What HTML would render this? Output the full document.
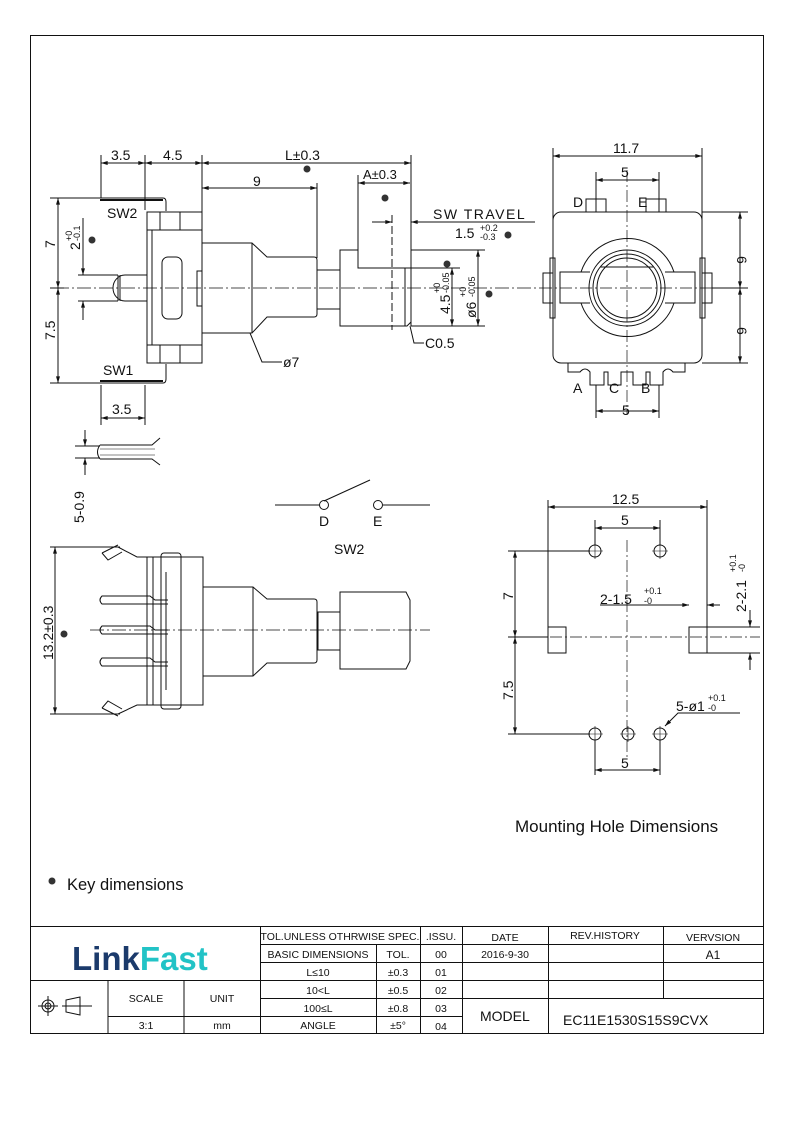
<!DOCTYPE html>
<html><head><meta charset="utf-8"><style>
html,body{margin:0;padding:0;background:#fff}
svg{display:block}
text{font-family:"Liberation Sans",sans-serif;fill:#111}
</style></head><body>
<svg width="794" height="1123" viewBox="0 0 794 1123" xmlns="http://www.w3.org/2000/svg">
<defs>
<marker id="a" viewBox="0 0 10 6" refX="10" refY="3" markerWidth="8" markerHeight="4" orient="auto-start-reverse"><path d="M0,0L10,3L0,6z" fill="#111"/></marker>
</defs>
<rect x="30.5" y="35.5" width="733" height="998" fill="none" stroke="#111" stroke-width="1"/>
<g stroke="#111" stroke-width="1" fill="none">
<line x1="55" y1="288" x2="540" y2="288" stroke-dasharray="14,3,2,3" stroke-width="0.7"/>
<line x1="101" y1="155" x2="101" y2="198"/><line x1="145" y1="155" x2="145" y2="210"/>
<line x1="202" y1="155" x2="202" y2="244"/><line x1="411" y1="155" x2="411" y2="326"/>
<line x1="101" y1="163" x2="145" y2="163" marker-start="url(#a)" marker-end="url(#a)"/>
<line x1="145" y1="163" x2="202" y2="163" marker-start="url(#a)" marker-end="url(#a)"/>
<line x1="202" y1="163" x2="411" y2="163" marker-start="url(#a)" marker-end="url(#a)"/>
<line x1="317" y1="183" x2="317" y2="258"/>
<line x1="202" y1="188" x2="317" y2="188" marker-start="url(#a)" marker-end="url(#a)"/>
<line x1="358" y1="175" x2="358" y2="268"/>
<line x1="358" y1="183" x2="410" y2="183" marker-start="url(#a)" marker-end="url(#a)"/>
<line x1="372" y1="222" x2="392" y2="222" marker-end="url(#a)"/>
<line x1="430" y1="222" x2="411" y2="222" marker-end="url(#a)"/>
<line x1="430" y1="222" x2="535" y2="222"/>
<line x1="392" y1="215" x2="392" y2="330" stroke-dasharray="8,3"/>
<path d="M100,198 H163 Q166,198 166,202 V211"/><path d="M100,200 H163" stroke-width="2"/>
<path d="M100,383 H163 Q166,383 166,379 V364"/><path d="M100,381 H163" stroke-width="2"/>
<rect x="147" y="212" width="55" height="151"/>
<line x1="147" y1="230" x2="202" y2="230"/><line x1="147" y1="345" x2="202" y2="345"/>
<line x1="160" y1="212" x2="160" y2="230"/><line x1="180" y1="212" x2="180" y2="230"/>
<line x1="160" y1="345" x2="160" y2="363"/><line x1="180" y1="345" x2="180" y2="363"/>
<line x1="152" y1="230" x2="152" y2="345"/>
<rect x="162" y="257" width="20" height="62" rx="6"/>
<rect x="197" y="271" width="5" height="35"/>
<path d="M147,275 H125 A12,13 0 0 0 125,301 H147"/><line x1="118" y1="275" x2="118" y2="301"/><line x1="120" y1="275" x2="120" y2="301"/>
<path d="M202,243 H252 L267,257 H314 Q317,257 317,260 V314 Q317,317 314,317 H267 L252,333 H202"/>
<line x1="252" y1="243" x2="252" y2="333"/>
<rect x="317" y="270" width="23" height="39"/>
<path d="M340,250 H358 V268 H411 V322 L407,326 H340 Z"/><line x1="405" y1="268" x2="405" y2="326"/>
<path d="M250,333 L262,362 H282"/>
<path d="M410,326 L414,343 H424"/>
<line x1="58" y1="198" x2="58" y2="383"/>
<line x1="50" y1="198" x2="100" y2="198"/><line x1="50" y1="383" x2="100" y2="383"/><line x1="50" y1="288" x2="64" y2="288"/>
<line x1="58" y1="205" x2="58" y2="198" marker-end="url(#a)"/><line x1="58" y1="280" x2="58" y2="288" marker-end="url(#a)"/>
<line x1="58" y1="296" x2="58" y2="288" marker-end="url(#a)"/><line x1="58" y1="376" x2="58" y2="383" marker-end="url(#a)"/>
<line x1="83" y1="218" x2="83" y2="275" marker-end="url(#a)"/><line x1="83" y1="320" x2="83" y2="301" marker-end="url(#a)"/>
<line x1="78" y1="275" x2="118" y2="275"/><line x1="78" y1="301" x2="118" y2="301"/>
<line x1="452" y1="268" x2="452" y2="326" marker-start="url(#a)" marker-end="url(#a)"/>
<line x1="478" y1="250" x2="478" y2="326" marker-start="url(#a)" marker-end="url(#a)"/>
<line x1="411" y1="326" x2="485" y2="326"/><line x1="411" y1="268" x2="460" y2="268"/><line x1="411" y1="250" x2="485" y2="250"/>
<line x1="101" y1="385" x2="101" y2="425"/><line x1="145" y1="385" x2="145" y2="425"/>
<line x1="101" y1="418" x2="145" y2="418" marker-start="url(#a)" marker-end="url(#a)"/>
<path d="M75,446 H100 M75,458 H100"/>
<path d="M100,445 H152 L160,438 M100,459 H152 L160,465"/>
<path d="M100,449 H155 M100,455 H155" stroke-width="0.6"/>
<path d="M100,445 Q95,452 100,459"/>
<line x1="85" y1="430" x2="85" y2="446" marker-end="url(#a)"/><line x1="85" y1="475" x2="85" y2="458" marker-end="url(#a)"/>
<line x1="627" y1="170" x2="627" y2="415" stroke-dasharray="12,3,2,3" stroke-width="0.7"/>
<line x1="540" y1="288" x2="725" y2="288" stroke-dasharray="12,3,2,3" stroke-width="0.7"/>
<line x1="553" y1="148" x2="553" y2="225"/><line x1="702" y1="148" x2="702" y2="225"/>
<line x1="553" y1="156" x2="702" y2="156" marker-start="url(#a)" marker-end="url(#a)"/>
<line x1="596" y1="172" x2="596" y2="212"/><line x1="659" y1="172" x2="659" y2="212"/>
<line x1="596" y1="180" x2="659" y2="180" marker-start="url(#a)" marker-end="url(#a)"/>
<rect x="553" y="212" width="149" height="151" rx="8"/>
<path d="M590,303 H560 V272 H590 M665,272 H695 V303 H665"/>
<path d="M581,272 A49,49 0 0 1 674,272 M581,303 A49,49 0 0 0 674,303"/>
<circle cx="627" cy="288" r="38"/><circle cx="627" cy="288" r="34"/><circle cx="627" cy="288" r="30"/>
<line x1="600" y1="267" x2="654" y2="267"/>
<rect x="543" y="273" width="10" height="30"/><rect x="702" y="273" width="10" height="30"/>
<rect x="550" y="258" width="5" height="60"/><rect x="700" y="258" width="5" height="60"/>
<rect x="586" y="199" width="20" height="13"/><rect x="646" y="199" width="20" height="13"/>
<path d="M568,363 V372 H580 Q585,366 590,372 V385 H604 V372 H608 V385 H621 V372 H633 V385 H646 V372 H650 V385 H663 V372 Q668,366 673,372 H685 V363"/>
<line x1="596" y1="385" x2="596" y2="418"/><line x1="659" y1="385" x2="659" y2="418"/>
<line x1="596" y1="411" x2="659" y2="411" marker-start="url(#a)" marker-end="url(#a)"/>
<line x1="702" y1="212" x2="748" y2="212"/><line x1="702" y1="363" x2="748" y2="363"/><line x1="712" y1="288" x2="748" y2="288"/>
<line x1="740" y1="212" x2="740" y2="288" marker-start="url(#a)" marker-end="url(#a)"/>
<line x1="740" y1="288" x2="740" y2="363" marker-start="url(#a)" marker-end="url(#a)"/>
<circle cx="324" cy="505" r="4.5"/><circle cx="378" cy="505" r="4.5"/>
<line x1="324" y1="501" x2="370" y2="480"/>
<line x1="275" y1="505" x2="320" y2="505"/><line x1="383" y1="505" x2="430" y2="505"/>
<line x1="90" y1="630" x2="430" y2="630" stroke-dasharray="14,3,2,3" stroke-width="0.7"/>
<line x1="50" y1="547" x2="120" y2="547"/><line x1="50" y1="714" x2="120" y2="714"/>
<line x1="55" y1="547" x2="55" y2="714" marker-start="url(#a)" marker-end="url(#a)"/>
<path d="M118,547 L137,557 H147 M118,714 L137,705 H147"/>
<path d="M102,553 L118,545 M102,553 L108,560 L122,552"/>
<path d="M102,708 L118,716 M102,708 L108,701 L122,709"/>
<rect x="147" y="557" width="56" height="148"/>
<rect x="161" y="553" width="20" height="156" rx="3"/>
<line x1="153" y1="557" x2="153" y2="705"/>
<path d="M168,600 H155 L150,596 H102 Q98,600 102,604 H150 L155,604 H168"/>
<path d="M168,630 H155 L150,626 H102 Q98,630 102,634 H150 L155,634 H168"/>
<path d="M168,662 H155 L150,658 H102 Q98,662 102,666 H150 L155,666 H168"/>
<line x1="166" y1="572" x2="166" y2="690"/>
<path d="M203,587 H253 L267,599 H314 Q317,599 317,602 V660 Q317,663 314,663 H267 L253,676 H203"/>
<line x1="253" y1="587" x2="253" y2="676"/>
<rect x="318" y="612" width="22" height="38"/>
<path d="M340,592 H406 L410,600 V661 L406,669 H340 Z"/>
<line x1="627" y1="540" x2="627" y2="760" stroke-dasharray="12,3,2,3" stroke-width="0.7"/>
<line x1="510" y1="637" x2="760" y2="637" stroke-dasharray="12,3,2,3" stroke-width="0.7"/>
<circle cx="595" cy="551" r="6"/><circle cx="660" cy="551" r="6"/>
<circle cx="595" cy="734" r="6"/><circle cx="628" cy="734" r="6"/><circle cx="660" cy="734" r="6"/>
<path d="M587,551H603M595,543V559M652,551H668M660,543V559M587,734H603M595,726V742M620,734H636M628,726V742M652,734H668M660,726V742" stroke-width="0.6"/>
<rect x="548" y="627" width="18" height="26"/><rect x="689" y="627" width="18" height="26"/>
<line x1="548" y1="500" x2="548" y2="627"/><line x1="707" y1="500" x2="707" y2="627"/>
<line x1="548" y1="507" x2="707" y2="507" marker-start="url(#a)" marker-end="url(#a)"/>
<line x1="595" y1="520" x2="595" y2="545"/><line x1="660" y1="520" x2="660" y2="545"/>
<line x1="595" y1="528" x2="660" y2="528" marker-start="url(#a)" marker-end="url(#a)"/>
<line x1="508" y1="551" x2="590" y2="551"/><line x1="508" y1="734" x2="590" y2="734"/><line x1="508" y1="637" x2="548" y2="637"/>
<line x1="515" y1="551" x2="515" y2="637" marker-start="url(#a)" marker-end="url(#a)"/>
<line x1="515" y1="637" x2="515" y2="734" marker-start="url(#a)" marker-end="url(#a)"/>
<line x1="595" y1="740" x2="595" y2="775"/><line x1="660" y1="740" x2="660" y2="775"/>
<line x1="595" y1="770" x2="660" y2="770" marker-start="url(#a)" marker-end="url(#a)"/>
<line x1="707" y1="627" x2="760" y2="627"/><line x1="707" y1="653" x2="760" y2="653"/>
<line x1="750" y1="610" x2="750" y2="627" marker-end="url(#a)"/><line x1="750" y1="670" x2="750" y2="653" marker-end="url(#a)"/>
<line x1="600" y1="605" x2="689" y2="605"/><line x1="670" y1="605" x2="689" y2="605" marker-end="url(#a)"/><line x1="720" y1="605" x2="707" y2="605" marker-end="url(#a)"/>
<path d="M740,713 H678 L665,726" marker-end="url(#a)"/>
<line x1="30" y1="926.5" x2="764" y2="926.5"/>
<line x1="30" y1="980.5" x2="260" y2="980.5"/>
<line x1="108" y1="980" x2="108" y2="1034"/><line x1="184" y1="980" x2="184" y2="1034"/>
<line x1="108" y1="1016.5" x2="260" y2="1016.5"/>
<line x1="260.5" y1="926" x2="260.5" y2="1034"/>
<line x1="260" y1="944.5" x2="764" y2="944.5"/>
<line x1="260" y1="962.5" x2="764" y2="962.5"/>
<line x1="260" y1="980.5" x2="764" y2="980.5"/>
<line x1="260" y1="998.5" x2="764" y2="998.5"/>
<line x1="260" y1="1016.5" x2="462" y2="1016.5"/>
<line x1="376.5" y1="944" x2="376.5" y2="1034"/>
<line x1="420.5" y1="926" x2="420.5" y2="1034"/>
<line x1="462.5" y1="926" x2="462.5" y2="1034"/>
<line x1="548.5" y1="926" x2="548.5" y2="1034"/>
<line x1="663.5" y1="926" x2="663.5" y2="998"/>
<circle cx="48" cy="1006" r="6"/><circle cx="48" cy="1006" r="3"/>
<path d="M38,1006H58M48,996V1016M66,1000 L80,997 V1015 L66,1012 Z M62,1006 H92"/>
</g>
<g fill="#333">
<circle cx="307" cy="169" r="3.5"/><circle cx="385" cy="198" r="3.5"/><circle cx="508" cy="235" r="3.5"/>
<circle cx="447" cy="264" r="3.5"/><circle cx="489" cy="294" r="3.5"/><circle cx="92" cy="240" r="3.5"/>
<circle cx="64" cy="634" r="3.5"/><circle cx="52" cy="881" r="3.5"/>
</g>
<g font-size="14">
<text x="111" y="160">3.5</text><text x="163" y="160">4.5</text><text x="285" y="160">L±0.3</text>
<text x="253" y="186">9</text><text x="363" y="179" font-size="13">A±0.3</text>
<text x="433" y="219" letter-spacing="1.5">SW TRAVEL</text>
<text x="455" y="238">1.5</text><text x="480" y="231" font-size="9">+0.2</text><text x="480" y="240" font-size="9">-0.3</text>
<text x="107" y="218">SW2</text><text x="103" y="375">SW1</text>
<text x="112" y="414">3.5</text>
<text x="283" y="367">ø7</text><text x="425" y="348">C0.5</text>
<text transform="translate(55,248) rotate(-90)">7</text>
<text transform="translate(55,340) rotate(-90)">7.5</text>
<text transform="translate(80,250) rotate(-90)">2</text><text transform="translate(72,241) rotate(-90)" font-size="9">+0</text><text transform="translate(80,241) rotate(-90)" font-size="9">-0.1</text>
<text transform="translate(450,314) rotate(-90)">4.5</text><text transform="translate(440,293) rotate(-90)" font-size="9">+0</text><text transform="translate(449,293) rotate(-90)" font-size="9">-0.05</text>
<text transform="translate(476,318) rotate(-90)">ø6</text><text transform="translate(466,297) rotate(-90)" font-size="9">+0</text><text transform="translate(475,297) rotate(-90)" font-size="9">-0.05</text>
<text transform="translate(84,523) rotate(-90)">5-0.9</text>
<text x="613" y="153">11.7</text><text x="621" y="177">5</text>
<text x="573" y="207">D</text><text x="638" y="207">E</text>
<text x="573" y="393">A</text><text x="609" y="393">C</text><text x="641" y="393">B</text>
<text x="622" y="415">5</text>
<text transform="translate(737,256) rotate(90)">6</text><text transform="translate(737,327) rotate(90)">6</text>
<text x="319" y="526">D</text><text x="373" y="526">E</text><text x="334" y="554">SW2</text>
<text transform="translate(53,660) rotate(-90)">13.2±0.3</text>
<text x="612" y="504">12.5</text><text x="621" y="525">5</text><text x="621" y="768">5</text>
<text transform="translate(513,600) rotate(-90)">7</text><text transform="translate(513,700) rotate(-90)">7.5</text>
<text x="600" y="604">2-1.5</text><text x="644" y="594" font-size="9">+0.1</text><text x="644" y="604" font-size="9">-0</text>
<text x="676" y="711">5-ø1</text><text x="708" y="701" font-size="9">+0.1</text><text x="708" y="711" font-size="9">-0</text>
<text transform="translate(746,612) rotate(-90)">2-2.1</text><text transform="translate(736,572) rotate(-90)" font-size="9">+0.1</text><text transform="translate(745,572) rotate(-90)" font-size="9">-0</text>
</g>
<text x="515" y="832" font-size="17">Mounting Hole Dimensions</text>
<text x="67" y="890" font-size="16.5">Key dimensions</text>
<text x="72" y="970" font-size="33" font-weight="bold" style="fill:#1b3a6b">Link<tspan style="fill:#22c3c6">Fast</tspan></text>
<g font-size="10.5" text-anchor="middle">
<text x="340" y="940">TOL.UNLESS OTHRWISE SPEC.</text><text x="441" y="940">.ISSU.</text>
<text x="505" y="941">DATE</text><text x="605" y="939">REV.HISTORY</text><text x="713" y="941">VERVSION</text>
<text x="318" y="958">BASIC DIMENSIONS</text><text x="398" y="958">TOL.</text><text x="441" y="958">00</text>
<text x="505" y="958">2016-9-30</text><text x="713" y="959" font-size="12">A1</text>
<text x="318" y="976">L≤10</text><text x="398" y="976">±0.3</text><text x="441" y="976">01</text>
<text x="318" y="994">10&lt;L</text><text x="398" y="994">±0.5</text><text x="441" y="994">02</text>
<text x="318" y="1012">100≤L</text><text x="398" y="1012">±0.8</text><text x="441" y="1012">03</text>
<text x="318" y="1029">ANGLE</text><text x="398" y="1029">±5°</text><text x="441" y="1030">04</text>
<text x="146" y="1002">SCALE</text><text x="222" y="1002">UNIT</text>
<text x="146" y="1029">3:1</text><text x="222" y="1029">mm</text>
</g>
<text x="480" y="1021" font-size="14">MODEL</text>
<text x="563" y="1025" font-size="14">EC11E1530S15S9CVX</text>
</svg>
</body></html>
